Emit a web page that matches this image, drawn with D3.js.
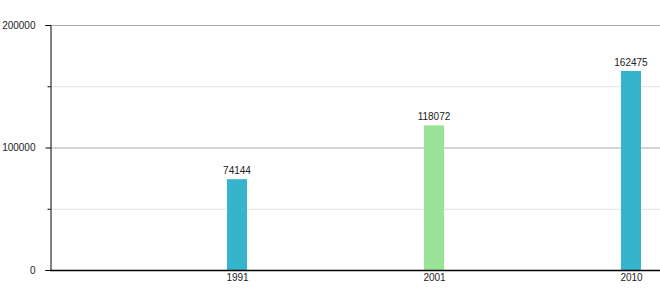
<!DOCTYPE html>
<html>
<head>
<meta charset="utf-8">
<script src="https://cdn.jsdelivr.net/npm/d3@7"></script>
<style>
body{margin:0;background:#fff;}
text{font-family:"Liberation Sans",Arial,sans-serif;font-size:10px;fill:#222;}
</style>
</head>
<body>
<svg id="c" width="660" height="300"></svg>
<script>
const years = ["1991", "2001", "2010"];
const values = [74144, 118072, 162475];
const colors = ["#36b4cc", "#98e395", "#36b4cc"];
const majorTicks = [0, 100000, 200000];
const minorTicks = [50000, 150000];

(function () {
const svg = d3.select("#c");
const mLeft = 50, mRight = 660, mTop = 25, mBottom = 270;
const y = d3.scaleLinear().domain([0, 200000]).range([mBottom, mTop]);
const x = d3.scalePoint().domain(years).range([237, 631]);
const barW = 20;

// gridlines
svg.selectAll(".minor").data(minorTicks).join("line")
  .attr("x1", mLeft).attr("x2", mRight)
  .attr("y1", d => y(d) + 0.5).attr("y2", d => y(d) + 0.5)
  .attr("stroke", "#e2e2e2").attr("stroke-width", 1);
svg.selectAll(".major").data(majorTicks.filter(d => d > 0)).join("line")
  .attr("x1", mLeft).attr("x2", mRight)
  .attr("y1", d => y(d) + 0.5).attr("y2", d => y(d) + 0.5)
  .attr("stroke", "#aaaaaa").attr("stroke-width", 1);

// bars
svg.selectAll("rect.bar").data(values).join("rect")
  .attr("x", (d, i) => x(years[i]) - barW / 2)
  .attr("y", d => y(d))
  .attr("width", barW)
  .attr("height", d => mBottom - y(d))
  .attr("fill", (d, i) => colors[i]);

// value labels
svg.selectAll("text.val").data(values).join("text")
  .attr("x", (d, i) => x(years[i]))
  .attr("y", d => y(d) - 5)
  .attr("text-anchor", "middle")
  .text(d => d);

// y axis
const yAxis = d3.axisLeft(y).tickValues(majorTicks).tickSize(5).tickPadding(10).tickFormat(d3.format("d"));
const gy = svg.append("g").attr("transform", `translate(${mLeft + 0.5},0)`).call(yAxis);
gy.select(".domain").attr("stroke", "#000");
gy.selectAll(".tick line").attr("stroke", "#000");
gy.selectAll("text").style("font-size", "10px").attr("fill", "#222");
const yMinor = d3.axisLeft(y).tickValues(minorTicks).tickSize(3).tickFormat("");
const gym = svg.append("g").attr("transform", `translate(${mLeft + 0.5},0)`).call(yMinor);
gym.select(".domain").remove();
gym.selectAll(".tick line").attr("stroke", "#000");

// x axis
const xAxis = d3.axisBottom(x).tickSize(0).tickPadding(3);
const gx = svg.append("g").attr("transform", `translate(0,${mBottom + 0.5})`).call(xAxis);
gx.select(".domain").attr("d", `M${mLeft},0H${mRight}`).attr("stroke", "#000").attr("stroke-width", 1.5);
gx.selectAll("text").style("font-size", "10px").attr("fill", "#222");
})();
</script>
</body>
</html>
